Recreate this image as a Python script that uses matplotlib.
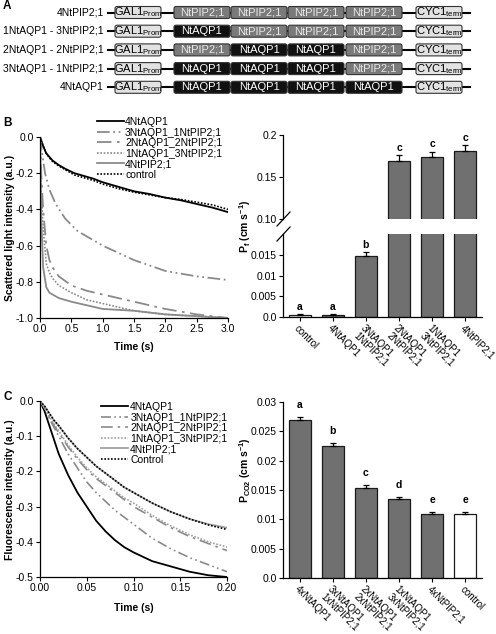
import numpy as np
import matplotlib
matplotlib.use("Agg")
import matplotlib.pyplot as plt
from matplotlib.patches import FancyBboxPatch
from matplotlib.lines import Line2D
from matplotlib.ticker import FuncFormatter

plt.rcParams['font.family'] = ['Liberation Sans', 'DejaVu Sans']
plt.rcParams['font.size'] = 7.5
plt.rcParams['axes.unicode_minus'] = False
plt.rcParams['mathtext.fontset'] = 'custom'
plt.rcParams['mathtext.rm'] = 'Liberation Sans'
plt.rcParams['mathtext.bf'] = 'Liberation Sans:bold'
plt.rcParams['mathtext.it'] = 'Liberation Sans:italic'

# ---- panel A: constructs
construct_names = ["4NtPIP2;1", "1NtAQP1 - 3NtPIP2;1", "2NtAQP1 - 2NtPIP2;1",
                   "3NtAQP1 - 1NtPIP2;1", "4NtAQP1"]
construct_genes = [["NtPIP2;1", "NtPIP2;1", "NtPIP2;1", "NtPIP2;1"],
                   ["NtAQP1", "NtPIP2;1", "NtPIP2;1", "NtPIP2;1"],
                   ["NtPIP2;1", "NtAQP1", "NtAQP1", "NtPIP2;1"],
                   ["NtAQP1", "NtAQP1", "NtAQP1", "NtPIP2;1"],
                   ["NtAQP1", "NtAQP1", "NtAQP1", "NtAQP1"]]

# ---- panel B: light scattering (water)
b_labels = ["4NtAQP1", "3NtAQP1_1NtPIP2;1", "2NtAQP1_2NtPIP2;1",
            "1NtAQP1_3NtPIP2;1", "4NtPIP2;1", "control"]
b_t_aqp = [0, 0.05, 0.1, 0.15, 0.2, 0.3, 0.4, 0.55, 0.7, 0.85, 1.0, 1.25, 1.5, 1.75, 2.0, 2.25, 2.5, 2.75, 3.0]
b_aqp = [0, -0.05, -0.09, -0.11, -0.13, -0.155, -0.175, -0.2, -0.215, -0.23, -0.25, -0.275, -0.3, -0.315,
         -0.335, -0.35, -0.37, -0.39, -0.415]
b_ctrl = [0, -0.05, -0.09, -0.115, -0.135, -0.16, -0.18, -0.21, -0.225, -0.24, -0.26, -0.285, -0.305, -0.32,
          -0.335, -0.345, -0.36, -0.375, -0.4]
b_t_31 = [0, 0.03, 0.08, 0.15, 0.25, 0.4, 0.6, 0.8, 1.0, 1.25, 1.5, 1.75, 2.0, 2.5, 3.0]
b_31 = [0, -0.08, -0.2, -0.29, -0.37, -0.45, -0.52, -0.56, -0.6, -0.64, -0.68, -0.71, -0.74, -0.77, -0.79]
b_t_fast = [0, 0.02, 0.05, 0.1, 0.15, 0.2, 0.3, 0.5, 0.75, 1.0, 1.5, 2.0, 2.5, 3.0]
b_22 = [0, -0.2, -0.4, -0.6, -0.68, -0.72, -0.77, -0.82, -0.85, -0.87, -0.91, -0.95, -0.98, -1.0]
b_13 = [0, -0.3, -0.5, -0.7, -0.75, -0.78, -0.82, -0.86, -0.9, -0.92, -0.96, -0.98, -0.99, -1.0]
b_pip = [0, -0.45, -0.72, -0.83, -0.86, -0.87, -0.89, -0.91, -0.93, -0.95, -0.96, -0.98, -0.99, -1.0]

pf_labels = ["control", "4NtAQP1", "3NtAQP1\n1NtPIP2;1", "2NtAQP1\n2NtPIP2;1",
             "1NtAQP1\n3NtPIP2;1", "4NtPIP2;1"]
pf_values = [0.0006, 0.0006, 0.0148, 0.169, 0.174, 0.181]
pf_errors = [0.0001, 0.0001, 0.0008, 0.007, 0.006, 0.007]
pf_letters = ["a", "a", "b", "c", "c", "c"]

# ---- panel C: fluorescence (CO2)
c_labels = ["4NtAQP1", "3NtAQP1_1NtPIP2;1", "2NtAQP1_2NtPIP2;1",
            "1NtAQP1_3NtPIP2;1", "4NtPIP2;1", "Control"]
c_t = [0, 0.005, 0.01, 0.015, 0.02, 0.03, 0.04, 0.05, 0.06, 0.07, 0.08, 0.09, 0.1, 0.12, 0.14, 0.16, 0.18, 0.2]
c_aqp = [0, -0.03, -0.07, -0.11, -0.15, -0.21, -0.26, -0.3, -0.34, -0.37, -0.395, -0.415, -0.43,
         -0.455, -0.47, -0.485, -0.495, -0.5]
c_31 = [0, -0.02, -0.05, -0.075, -0.1, -0.15, -0.19, -0.23, -0.26, -0.285, -0.31, -0.33, -0.35,
        -0.39, -0.42, -0.445, -0.465, -0.485]
c_22 = [0, -0.02, -0.045, -0.07, -0.09, -0.13, -0.165, -0.195, -0.22, -0.24, -0.26, -0.28, -0.3,
        -0.33, -0.36, -0.385, -0.405, -0.425]
c_13 = [0, -0.02, -0.045, -0.065, -0.085, -0.125, -0.16, -0.19, -0.215, -0.235, -0.255, -0.275, -0.29,
        -0.325, -0.355, -0.38, -0.4, -0.415]
c_pip = [0, -0.015, -0.035, -0.055, -0.07, -0.105, -0.135, -0.16, -0.185, -0.205, -0.225, -0.245, -0.26,
         -0.29, -0.315, -0.335, -0.35, -0.36]
c_ctrl = [0, -0.015, -0.035, -0.055, -0.07, -0.105, -0.135, -0.16, -0.185, -0.205, -0.225, -0.245, -0.26,
          -0.29, -0.315, -0.335, -0.352, -0.365]

pco2_labels = ["4xNtAQP1", "3xNtAQP1\n1xNtPIP2;1", "2xNtAQP1\n2xNtPIP2;1",
               "1xNtAQP1\n3xNtPIP2;1", "4xNtPIP2;1", "control"]
pco2_values = [0.027, 0.0225, 0.0153, 0.0134, 0.0109, 0.0109]
pco2_errors = [0.0004, 0.0005, 0.0006, 0.0004, 0.0004, 0.0004]
pco2_letters = ["a", "b", "c", "d", "e", "e"]

W, H = 496, 634
GRAY = "#8a8a8a"
BAR = "#707070"


def fmt(decimals):
    # plain hyphen, and no "-0.0"
    def f(v, pos):
        s = f"{v:.{decimals}f}"
        return s[1:] if s.startswith("-") and float(s) == 0 else s
    return FuncFormatter(f)


def px_axes(fig, x0, y0, x1, y1):
    # axes from pixel box (top-left origin)
    return fig.add_axes([x0 / W, 1 - y1 / H, (x1 - x0) / W, (y1 - y0) / H])


def style_axes(ax):
    for s in ['top', 'right']:
        ax.spines[s].set_visible(False)
    for s in ['left', 'bottom']:
        ax.spines[s].set_linewidth(0.9)
    ax.tick_params(length=3, width=0.8, labelsize=7.5, pad=1.5)


def draw_constructs(fig):
    ax = fig.add_axes([0, 1 - 110 / H, 1, 110 / H])
    ax.set_xlim(0, W)
    ax.set_ylim(110, 0)
    ax.axis('off')
    ax.text(3, 6, "A", fontsize=8.5, fontweight='bold', va='center')
    gene_x = [174, 231, 288, 346]
    for i, (name, genes) in enumerate(zip(construct_names, construct_genes)):
        y = 12.5 + 18.7 * i
        ax.text(104, y, name, ha='right', va='center', fontsize=7.5)
        ax.plot([108, 470], [y, y], color='black', lw=1.5, zorder=1)
        for x0, x1, lab in [(115, 161, r"GAL1$_\mathregular{Prom}$"), (416, 462, r"CYC1$_\mathregular{term}$")]:
            ax.add_patch(FancyBboxPatch((x0, y - 6), x1 - x0, 12, boxstyle="round,pad=0,rounding_size=2",
                                        fc="#e2e2e2", ec="#333333", lw=0.8, zorder=2))
            ax.text((x0 + x1) / 2, y, lab, ha='center', va='center', fontsize=8, zorder=3)
        for gx, g in zip(gene_x, genes):
            fc = "#111111" if g == "NtAQP1" else "#7a7a7a"
            tc = "white" if g == "NtAQP1" else "#e6e6e6"
            ax.add_patch(FancyBboxPatch((gx, y - 6), 56, 12, boxstyle="round,pad=0,rounding_size=2",
                                        fc=fc, ec="#333333", lw=0.8, zorder=2))
            ax.text(gx + 28, y, g, ha='center', va='center', fontsize=8, color=tc, zorder=3)


def draw_water_curves(fig):
    ax = px_axes(fig, 40, 137, 228, 318)
    style_axes(ax)
    ax.plot(b_t_aqp, b_aqp, color='black', lw=1.3, label=b_labels[0])
    ax.plot(b_t_31, b_31, color=GRAY, lw=1.3, ls=(0, (7, 2, 1, 2, 1, 2)), label=b_labels[1])
    ax.plot(b_t_fast, b_22, color=GRAY, lw=1.3, ls=(0, (8, 3, 1.5, 3)), label=b_labels[2])
    ax.plot(b_t_fast, b_13, color=GRAY, lw=1.2, ls=(0, (1, 1)), label=b_labels[3])
    ax.plot(b_t_fast, b_pip, color=GRAY, lw=1.3, label=b_labels[4])
    ax.plot(b_t_aqp, b_ctrl, color='black', lw=1.2, ls=(0, (1, 1)), label=b_labels[5])
    ax.set_xlim(0, 3.0)
    ax.set_ylim(-1.0, 0.0)
    ax.set_xticks(np.arange(0, 3.01, 0.5))
    ax.set_yticks(np.arange(-1.0, 0.01, 0.2))
    ax.xaxis.set_major_formatter(fmt(1))
    ax.yaxis.set_major_formatter(fmt(1))
    ax.legend(loc='upper left', bbox_to_anchor=(97 / W, 1 - 117 / H), bbox_transform=fig.transFigure,
              frameon=False, fontsize=7.5, handlelength=2.6, handletextpad=0.1, labelspacing=0.05,
              borderpad=0, borderaxespad=0)
    fig.text(134 / W, 1 - 347 / H, "Time (s)", ha='center', va='center', fontweight='bold')
    fig.text(10 / W, 1 - 228 / H, "Scattered light intensity (a.u.)", rotation=90, ha='center',
             va='center', fontweight='bold')
    fig.text(3 / W, 1 - 123 / H, "B", fontsize=8.5, fontweight='bold', va='center')


def bars(ax, values, errors, colors):
    x = np.arange(len(values))
    ax.bar(x, values, width=0.66, color=colors, edgecolor='#1a1a1a', lw=0.9, zorder=2)
    ax.errorbar(x, values, yerr=[np.zeros(len(errors)), errors], fmt='none', ecolor='black',
                elinewidth=0.9, capsize=2.5, capthick=0.9, zorder=3)
    ax.set_xlim(-0.5, len(values) - 0.5)


def break_mark(fig, y):
    fig.add_artist(Line2D([277 / W, 290 / W], [1 - (y + 7) / H, 1 - (y - 7) / H], color='black', lw=0.9))


def draw_water_bars(fig):
    colors = ["white"] + [BAR] * 5
    top = px_axes(fig, 283, 135, 482, 219)
    low = px_axes(fig, 283, 234, 482, 317)
    for ax in (top, low):
        style_axes(ax)
        bars(ax, pf_values, pf_errors, colors)
    top.spines['bottom'].set_visible(False)
    top.set_xticks([])
    top.set_ylim(0.10, 0.2)
    top.set_yticks([0.10, 0.15, 0.2])
    top.set_yticklabels(["0.10", "0.15", "0.2"])
    low.set_ylim(0, 0.02)
    low.set_yticks([0, 0.005, 0.01, 0.015])
    low.set_yticklabels(["0.0", "0.005", "0.01", "0.015"])
    low.set_xticks(np.arange(len(pf_labels)))
    low.set_xticklabels(pf_labels, rotation=-45, ha='left', va='top', rotation_mode='anchor',
                        fontsize=7, linespacing=0.95)
    for i, (v, e, l) in enumerate(zip(pf_values, pf_errors, pf_letters)):
        ax = top if v > 0.1 else low
        off = 0.003 if v > 0.1 else 0.0006
        ax.text(i, v + e + off, l, ha='center', va='bottom', fontweight='bold', fontsize=7.5)
    break_mark(fig, 219)
    break_mark(fig, 234)
    fig.text(245 / W, 1 - 226 / H, r"P$_\mathbf{f}$ (cm s$^\mathbf{-1}$)", rotation=90, ha='center',
             va='center', fontweight='bold')


def draw_co2_curves(fig):
    ax = px_axes(fig, 40, 401, 227, 577)
    style_axes(ax)
    ax.plot(c_t, c_aqp, color='black', lw=1.3, label=c_labels[0])
    ax.plot(c_t, c_31, color=GRAY, lw=1.2, ls=(0, (6, 2, 1, 2, 1, 2)), label=c_labels[1])
    ax.plot(c_t, c_22, color=GRAY, lw=1.2, ls=(0, (7, 3, 1.5, 3)), label=c_labels[2])
    ax.plot(c_t, c_13, color="#a0a0a0", lw=1.2, ls=(0, (1, 1)), label=c_labels[3])
    ax.plot(c_t, c_pip, color="#a0a0a0", lw=1.3, label=c_labels[4])
    ax.plot(c_t, c_ctrl, color='black', lw=1.2, ls=(0, (1, 1)), label=c_labels[5])
    ax.set_xlim(0, 0.2)
    ax.set_ylim(-0.5, 0.0)
    ax.set_xticks(np.arange(0, 0.201, 0.05))
    ax.set_yticks(np.arange(-0.5, 0.01, 0.1))
    ax.xaxis.set_major_formatter(fmt(2))
    ax.yaxis.set_major_formatter(fmt(1))
    ax.legend(loc='upper left', bbox_to_anchor=(101 / W, 1 - 402 / H), bbox_transform=fig.transFigure,
              frameon=False, fontsize=7.5, handlelength=2.6, handletextpad=0.2, labelspacing=0.05,
              borderpad=0, borderaxespad=0)
    fig.text(134 / W, 1 - 608 / H, "Time (s)", ha='center', va='center', fontweight='bold')
    fig.text(10 / W, 1 - 490 / H, "Fluorescence intensity (a.u.)", rotation=90, ha='center',
             va='center', fontweight='bold')
    fig.text(3 / W, 1 - 397 / H, "C", fontsize=8.5, fontweight='bold', va='center')


def draw_co2_bars(fig):
    ax = px_axes(fig, 283, 402, 482, 578)
    style_axes(ax)
    bars(ax, pco2_values, pco2_errors, [BAR] * 5 + ["white"])
    ax.set_ylim(0, 0.03)
    ax.set_yticks([0, 0.005, 0.01, 0.015, 0.02, 0.025, 0.03])
    ax.set_yticklabels(["0.0", "0.005", "0.01", "0.015", "0.02", "0.025", "0.03"])
    ax.set_xticks(np.arange(len(pco2_labels)))
    ax.set_xticklabels(pco2_labels, rotation=-45, ha='left', va='top', rotation_mode='anchor',
                       fontsize=7, linespacing=0.95)
    for i, (v, e, l) in enumerate(zip(pco2_values, pco2_errors, pco2_letters)):
        ax.text(i, v + e + 0.0012, l, ha='center', va='bottom', fontweight='bold', fontsize=7.5)
    fig.text(245 / W, 1 - 470 / H, r"P$_\mathbf{CO2}$ (cm s$^\mathbf{-1}$)", rotation=90, ha='center',
             va='center', fontweight='bold')


def main():
    fig = plt.figure(figsize=(W / 100, H / 100), dpi=100)
    draw_constructs(fig)
    draw_water_curves(fig)
    draw_water_bars(fig)
    draw_co2_curves(fig)
    draw_co2_bars(fig)
    fig.savefig("out.png", dpi=100)
    plt.close(fig)


if __name__ == "__main__":
    main()
